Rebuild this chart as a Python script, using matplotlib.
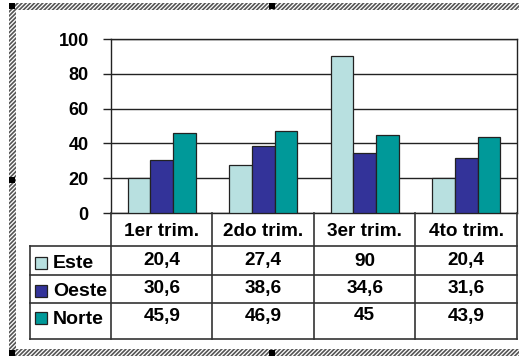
import matplotlib.pyplot as plt
import numpy as np
from matplotlib.patches import Rectangle

plt.rcParams['font.family'] = ['Liberation Sans', 'DejaVu Sans']
plt.rcParams['hatch.linewidth'] = 1.2

trimestres = ["1er trim.", "2do trim.", "3er trim.", "4to trim."]
series = ["Este", "Oeste", "Norte"]
este = [20.4, 27.4, 90, 20.4]
oeste = [30.6, 38.6, 34.6, 31.6]
norte = [45.9, 46.9, 45, 43.9]
colores = ["#b8e0e0", "#333399", "#009999"]
yticks = [0, 20, 40, 60, 80, 100]

W, H = 519, 356
fig = plt.figure(figsize=(W / 100, H / 100), dpi=100)


def px(x0, y0, x1, y1):
    # caja en pixeles (origen arriba a la izquierda) -> coordenadas de figura
    return [x0 / W, 1 - y1 / H, (x1 - x0) / W, (y1 - y0) / H]


# marco rayado del objeto
for caja in [(10, 3, 530, 10), (10, 349, 530, 356), (9, 3, 16, 356)]:
    x0, y0, x1, y1 = caja
    b = px(x0, y0, x1, y1)
    fig.patches.append(Rectangle((b[0], b[1]), b[2], b[3], transform=fig.transFigure,
                                 facecolor="white", edgecolor="#555555", hatch="////////",
                                 lw=0, zorder=0))
for cx, cy in [(12, 6), (272, 6), (12, 180), (12, 353), (272, 353)]:
    b = px(cx - 3, cy - 3, cx + 3, cy + 3)
    fig.patches.append(Rectangle((b[0], b[1]), b[2], b[3], transform=fig.transFigure,
                                 facecolor="black", lw=0, zorder=1))

# grafico de columnas
ax = fig.add_axes(px(111, 39, 517, 213))
x = np.arange(len(trimestres))
w = 1 / 4.5
for i, (vals, col) in enumerate(zip([este, oeste, norte], colores)):
    ax.bar(x + (i - 1) * w, vals, w, color=col, edgecolor="#222222", lw=0.9, zorder=3)

ax.set_xlim(-0.5, 3.5)
ax.set_ylim(0, 100)
ax.set_yticks(yticks)
ax.set_yticklabels([str(t) for t in yticks], fontsize=13, fontweight="bold")
ax.set_xticks([])
ax.grid(axis="y", color="#222222", lw=1, zorder=0)
ax.tick_params(axis="y", length=6, width=1, color="#222222", pad=10)
for s in ax.spines.values():
    s.set_color("#222222")
    s.set_linewidth(1)

# tabla de datos debajo del grafico
tb = fig.add_axes(px(30, 213, 517, 339))
tb.set_xlim(-1.298, 3.5)
tb.set_ylim(339, 213)
tb.axis("off")
lc = "#333333"
for xv in [-0.5, 0.5, 1.5, 2.5, 3.5]:
    tb.plot([xv, xv], [213, 339], color=lc, lw=1.2, clip_on=False)
tb.plot([-1.298, -1.298], [246, 339], color=lc, lw=1.2, clip_on=False)
for yv in [246, 275, 303, 339]:
    tb.plot([-1.298, 3.5], [yv, yv], color=lc, lw=1.2, clip_on=False)

for i, t in enumerate(trimestres):
    tb.text(i, 232, t, ha="center", va="center", fontsize=13.7, fontweight="bold")

filas_y = [261, 289, 316]
for fy, nombre, vals, col in zip(filas_y, series, [este, oeste, norte], colores):
    ly = fy + 2
    tb.add_patch(Rectangle((-1.25, ly - 6), 0.118, 12, facecolor=col,
                           edgecolor="#222222", lw=0.9))
    tb.text(-1.07, ly + 1, nombre, ha="left", va="center", fontsize=14, fontweight="bold")
    for i, v in enumerate(vals):
        tb.text(i, fy, f"{v:g}".replace(".", ","), ha="center", va="center",
                fontsize=13.7, fontweight="bold")

fig.savefig("out.png", dpi=100)
